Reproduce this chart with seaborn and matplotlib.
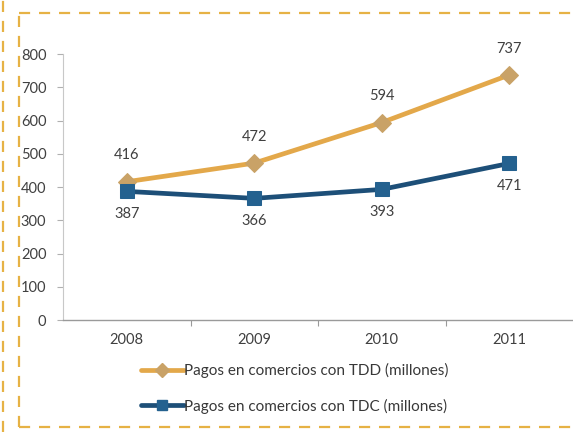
import matplotlib
matplotlib.use("Agg")
import matplotlib.pyplot as plt
from matplotlib.lines import Line2D
import seaborn as sns
import pandas as pd

years = ["2008", "2009", "2010", "2011"]
tdd = [416, 472, 594, 737]
tdc = [387, 366, 393, 471]
label_tdd = "Pagos en comercios con TDD (millones)"
label_tdc = "Pagos en comercios con TDC (millones)"

sns.set_theme(style="white")
plt.rcParams["font.family"] = ["Lato", "DejaVu Sans"]

df = pd.DataFrame({
    "pos": list(range(len(years))) * 2,
    "valor": tdd + tdc,
    "serie": [label_tdd] * len(years) + [label_tdc] * len(years),
})

orange = "#E3A84A"
orange_mk = "#C9A267"
navy = "#1D4F78"
navy_mk = "#24618F"
text_c = "#404040"

fig = plt.figure(figsize=(5.73, 4.32), dpi=100)
ax = fig.add_axes([0.110, 0.259, 0.890, 0.616])

sns.lineplot(data=df[df.serie == label_tdd], x="pos", y="valor", ax=ax,
             color=orange, linewidth=3.4, marker="D", markersize=9,
             markerfacecolor=orange_mk, markeredgecolor=orange_mk, legend=False)
sns.lineplot(data=df[df.serie == label_tdc], x="pos", y="valor", ax=ax,
             color=navy, linewidth=3.4, marker="s", markersize=10,
             markerfacecolor=navy_mk, markeredgecolor=navy_mk, legend=False)

for i, v in enumerate(tdd):
    ax.annotate(str(v), (i, v), xytext=(0, 14), textcoords="offset points",
                ha="center", va="bottom", fontsize=10.5, color=text_c)
for i, v in enumerate(tdc):
    ax.annotate(str(v), (i, v), xytext=(0, -11), textcoords="offset points",
                ha="center", va="top", fontsize=10.5, color=text_c)

ax.set_xlim(-0.5, 3.5)
ax.set_ylim(0, 800)
ax.set_yticks(range(0, 801, 100))
ax.set_xticks(range(len(years)))
ax.set_xticklabels(years)
ax.set_xticks([0.5, 1.5, 2.5], minor=True)
ax.set_xlabel("")
ax.set_ylabel("")
ax.tick_params(axis="y", labelsize=10.5, colors=text_c, length=4, width=0.8,
               left=True, pad=8)
ax.tick_params(axis="x", which="major", labelsize=10.5, colors=text_c, length=0, pad=9)
ax.tick_params(axis="x", which="minor", length=4, width=0.8, bottom=True,
               color="#9a9a9a")
ax.tick_params(axis="y", color="#b0b0b0")
for s in ["top", "right"]:
    ax.spines[s].set_visible(False)
ax.spines["left"].set_color("#c8c8c8")
ax.spines["left"].set_linewidth(0.8)
ax.spines["bottom"].set_color("#9a9a9a")
ax.spines["bottom"].set_linewidth(1.0)

handles = [
    Line2D([], [], color=orange, linewidth=3.4, marker="D", markersize=7,
           markerfacecolor=orange_mk, markeredgecolor=orange_mk),
    Line2D([], [], color=navy, linewidth=3.4, marker="s", markersize=7,
           markerfacecolor=navy_mk, markeredgecolor=navy_mk),
]
fig.legend(handles, [label_tdd, label_tdc], loc="center left",
           bbox_to_anchor=(0.222, 0.101), frameon=False, fontsize=11,
           handlelength=2.8, handletextpad=0.05, labelspacing=1.35,
           labelcolor="#383838")

# dashed frame around the chart
dash_c = "#E6B245"
kw = dict(color=dash_c, linewidth=1.6, linestyle=(0, (5, 4)),
          transform=fig.transFigure)
fig.add_artist(Line2D([0.006, 0.006], [0.0, 1.0], **kw))
fig.add_artist(Line2D([0.033, 0.033], [0.012, 0.97], **kw))
fig.add_artist(Line2D([0.033, 1.0], [0.97, 0.97], **kw))
fig.add_artist(Line2D([0.033, 1.0], [0.012, 0.012], **kw))

fig.savefig("out.png", dpi=100)
